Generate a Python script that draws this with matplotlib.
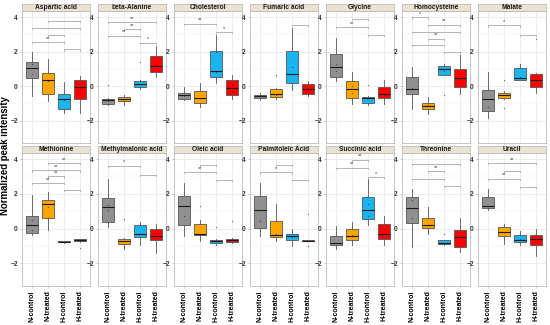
import matplotlib
matplotlib.use("Agg")
import matplotlib.pyplot as plt

plt.rcParams['font.family'] = ['Liberation Sans', 'DejaVu Sans']

metabolites = ["Aspartic acid", "beta-Alanine", "Cholesterol", "Fumaric acid", "Glycine",
               "Homocysteine", "Malate", "Methionine", "Methylmalonic acid", "Oleic acid",
               "Palmitoleic Acid", "Succinic acid", "Threonine", "Uracil"]
groups = ["N-control", "N-treated", "H-control", "H-treated"]
colors = ["#909090", "#FFA500", "#1AB4EE", "#FF0000"]

medians = [[1.06, 0.35, -0.77, -0.08], [-0.81, -0.73, 0.10, 1.15], [-0.52, -0.67, 0.85, -0.12],
           [-0.58, -0.44, 0.67, -0.15], [1.12, -0.19, -0.71, -0.46], [-0.15, -1.15, 0.96, 0.48],
           [-0.73, -0.54, 0.46, 0.35], [0.21, 1.39, -0.75, -0.66], [1.22, -0.72, -0.29, -0.43],
           [1.29, -0.29, -0.73, -0.67], [1.10, -0.35, -0.44, -0.70], [-0.81, -0.44, 1.10, -0.29],
           [1.16, 0.21, -0.81, -0.48], [1.30, -0.19, -0.64, -0.58]]
q1s = [[0.46, -0.46, -1.31, -0.77], [-1.02, -0.88, -0.06, 0.81], [-0.73, -1.00, 0.50, -0.52],
       [-0.71, -0.63, 0.15, -0.46], [0.54, -0.69, -0.98, -0.69], [-0.46, -1.33, 0.63, -0.08],
       [-1.42, -0.67, 0.38, -0.04], [-0.23, 0.64, -0.79, -0.72], [0.39, -0.87, -0.48, -0.68],
       [0.23, -0.35, -0.85, -0.77], [0.04, -0.46, -0.64, -0.72], [-0.96, -0.67, 0.54, -0.62],
       [0.33, 0.06, -0.91, -1.06], [1.16, -0.43, -0.77, -0.97]]
q3s = [[1.42, 0.73, -0.46, 0.38], [-0.73, -0.62, 0.27, 1.77], [-0.38, -0.29, 2.02, 0.33],
       [-0.50, -0.19, 2.02, 0.10], [1.83, 0.29, -0.63, -0.06], [0.54, -0.98, 1.19, 0.98],
       [-0.25, -0.38, 1.04, 0.67], [0.73, 1.64, -0.72, -0.60], [1.78, -0.58, 0.19, 0.00],
       [1.88, 0.29, -0.63, -0.58], [1.86, 0.43, -0.29, -0.68], [-0.44, 0.00, 1.83, 0.27],
       [1.80, 0.64, -0.68, -0.10], [1.84, 0.10, -0.39, -0.35]]
whislo = [[-0.58, -0.87, -1.54, -1.54], [-1.08, -1.12, -0.19, 0.54], [-0.81, -1.19, 0.15, -0.77],
          [-0.81, -0.73, -0.23, -0.58], [0.31, -1.02, -1.12, -1.02], [-1.31, -1.60, 0.63, -0.44],
          [-1.83, -0.73, 0.38, -0.38], [-0.35, -0.10, -0.81, -0.75], [0.10, -1.16, -0.97, -1.41],
          [-0.42, -0.73, -0.92, -0.80], [-0.43, -0.72, -1.02, -0.72], [-1.19, -0.96, 0.19, -0.96],
          [-1.06, -0.29, -0.95, -1.35], [1.10, -0.91, -0.97, -1.55]]
whishi = [[1.98, 1.54, 0.23, 0.60], [-0.67, -0.50, 0.33, 2.35], [-0.08, 0.15, 2.96, 0.62],
          [-0.38, -0.10, 3.37, 0.31], [2.77, 0.83, -0.58, 0.38], [1.12, -0.63, 1.25, 1.81],
          [0.81, -0.30, 1.29, 0.77], [1.93, 2.11, -0.70, -0.57], [2.86, -0.55, 0.37, 0.29],
          [2.65, 0.48, -0.60, -0.55], [2.65, 1.41, 0.00, -0.68], [0.15, 0.38, 2.83, 0.71],
          [2.26, 1.26, -0.65, 0.64], [2.26, 0.29, -0.14, 0.00]]
points = [[[0.7, 1.3], [0.3], [-0.8], [-0.1]],
          [[0.04, -0.85], [-0.75], [1.42, 0.1], [1.2]],
          [[-0.55], [-0.7], [0.8, 2.0], [0.1, -0.3]],
          [[-0.6], [0.65, -0.5], [1.1], [-0.2]],
          [[1.3, 0.9], [0.0, -0.4], [0.08], [-0.5]],
          [[-0.1], [-1.1], [-0.54, 0.9], [0.4, 0.7]],
          [[-1.2], [0.33, -1.25], [0.5], [2.75, 0.3]],
          [[0.48, -0.1], [1.26], [-0.75], [-1.1]],
          [[1.35, 1.06], [0.58], [-0.3], [-0.15]],
          [[0.71], [1.31], [0.08], [0.46]],
          [[0.44], [-0.3], [-0.5], [0.83, -1.02]],
          [[-0.8], [-0.35], [1.44, 0.73], [-0.3]],
          [[0.6, 1.64], [0.2], [-0.33], [-0.5]],
          [[1.3], [-0.2], [-0.6], [-0.6]]]
brackets = [[(1, 3, 3.77, ""), (0, 3, 3.35, ""), (1, 2, 2.98, ""), (0, 2, 2.54, "**"), (2, 3, 2.12, "")],
            [(0, 3, 3.71, "**"), (1, 2, 3.31, "**"), (0, 2, 2.92, "**"), (2, 3, 2.50, "*")],
            [(0, 2, 3.62, "**"), (2, 3, 3.12, "*")],
            [(2, 3, 3.56, "")],
            [(1, 2, 3.88, ""), (0, 2, 3.42, "**"), (2, 3, 2.96, "")],
            [(0, 1, 3.98, "*"), (1, 3, 3.56, "**"), (0, 3, 3.15, ""), (1, 2, 2.75, "**"), (0, 2, 2.37, ""), (2, 3, 1.96, "")],
            [(0, 2, 3.52, "*"), (2, 3, 2.98, "")],
            [(1, 3, 3.77, "**"), (0, 3, 3.35, "**"), (1, 2, 3.00, "**"), (0, 2, 2.61, "**"), (2, 3, 2.22, "")],
            [(0, 2, 3.61, "*"), (2, 3, 3.07, "")],
            [(1, 2, 3.67, ""), (0, 2, 3.25, "**"), (2, 3, 2.81, "")],
            [(1, 2, 3.66, ""), (0, 2, 3.23, "*"), (2, 3, 2.80, "")],
            [(1, 2, 3.96, "**"), (0, 2, 3.50, "**"), (2, 3, 2.96, "*")],
            [(0, 3, 3.73, ""), (1, 2, 3.31, "**"), (0, 2, 2.88, ""), (2, 3, 2.46, "")],
            [(0, 3, 3.77, "**"), (1, 2, 3.31, ""), (0, 2, 2.88, "**"), (2, 3, 2.42, "")]]

W, H = 550, 325
fig = plt.figure(figsize=(W / 100, H / 100), dpi=100)
fig.patch.set_facecolor("white")

edge = "#555555"
for k, name in enumerate(metabolites):
    r, c = divmod(k, 7)
    left = 22 + c * 76.0
    top = 11 if r == 0 else 153
    h = 132 if r == 0 else 133
    ax = fig.add_axes([left / W, 1 - (top + h) / H, 68 / W, h / H])
    sax = fig.add_axes([left / W, 1 - top / H, 68 / W, 7 / H])
    sax.set_facecolor("#EAE3D2")
    sax.set_xticks([]); sax.set_yticks([])
    for s in sax.spines.values():
        s.set_color("#BDBDBD"); s.set_linewidth(0.6)
    sax.text(0.5, 0.45, name, ha="center", va="center", fontsize=4.8, fontweight="bold",
             transform=sax.transAxes, color="#1A1A1A")

    stats = []
    for g in range(4):
        stats.append(dict(med=medians[k][g], q1=q1s[k][g], q3=q3s[k][g],
                          whislo=whislo[k][g], whishi=whishi[k][g], fliers=[]))
    bp = ax.bxp(stats, positions=[1, 2, 3, 4], widths=0.75, patch_artist=True,
                showfliers=False, showcaps=False,
                boxprops=dict(edgecolor=edge, linewidth=0.6),
                whiskerprops=dict(color=edge, linewidth=0.6),
                medianprops=dict(color="#1A1A1A", linewidth=0.8))
    for patch, col in zip(bp["boxes"], colors):
        patch.set_facecolor(col)
    for g in range(4):
        p = points[k][g]
        ax.scatter([g + 1] * len(p), p, s=1.0, color="#222222", alpha=0.6, linewidths=0, zorder=4)
    for (i, j, y, lab) in brackets[k]:
        x1, x2 = i + 1, j + 1
        ax.plot([x1, x1, x2, x2], [y - 0.07, y, y, y - 0.07], color="#A8A8A8", lw=0.6, zorder=3)
        if lab:
            ax.text((x1 + x2) / 2, y + 0.08, lab, ha="center", va="bottom", fontsize=4,
                    color="#333333")

    ax.set_xlim(0.4, 4.6)
    ax.set_ylim(-3.3, 4.35)
    ax.set_yticks([-2, 0, 2, 4])
    ax.set_yticks([-3, -1, 1, 3], minor=True)
    ax.set_xticks([1, 2, 3, 4])
    ax.set_axisbelow(True)
    ax.grid(True, which="major", color="#E6E6E6", linewidth=0.5)
    ax.grid(True, which="minor", axis="y", color="#F0F0F0", linewidth=0.3)
    for s in ax.spines.values():
        s.set_color("#BDBDBD"); s.set_linewidth(0.6)
    ax.tick_params(axis="y", which="major", length=1.5, width=0.5, color="#B3B3B3",
                   labelsize=4.8, pad=1.5)
    ax.tick_params(axis="y", which="minor", length=0)
    for t in ax.get_yticklabels():
        t.set_fontweight("bold"); t.set_color("#333333")
    if r == 0:
        ax.tick_params(axis="x", bottom=False, labelbottom=False)
    else:
        ax.set_xticklabels(groups, rotation=90, fontsize=5, fontweight="bold")
        ax.tick_params(axis="x", length=1.5, width=0.5, color="#B3B3B3", pad=1.5)

fig.text(5.5 / W, 1 - 156 / H, "Normalized peak intensity", rotation=90, ha="center",
         va="center", fontsize=6.9, fontweight="bold")

fig.savefig("out.png", dpi=100, facecolor="white")
